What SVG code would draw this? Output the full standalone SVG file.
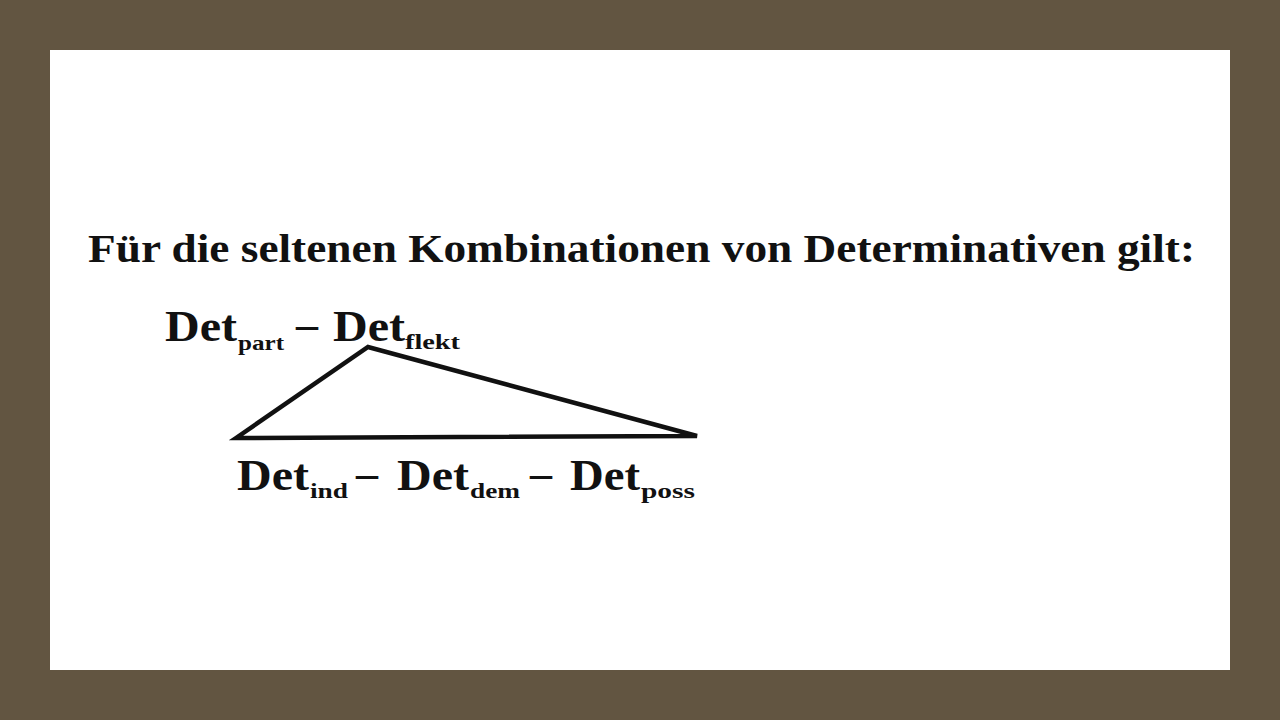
<svg xmlns="http://www.w3.org/2000/svg" width="1280" height="720" viewBox="0 0 1280 720">
<style>
.t{font-family:"Liberation Serif","Times New Roman",serif;font-weight:bold;fill:#111;}
.m{font-size:44px;}
.s{font-size:22px;}
.h{font-size:40px;}
</style>
<rect x="0" y="0" width="1280" height="720" fill="#625541"/>
<rect x="50" y="50" width="1180" height="620" fill="#ffffff"/>
<g id="title">
<text class="t h" x="88" y="262" textLength="1107" lengthAdjust="spacingAndGlyphs">Für die seltenen Kombinationen von Determinativen gilt:</text>
</g>
<g id="connectors">
<polygon points="236,438 368,347 697,436" fill="none" stroke="#111" stroke-width="4.5" stroke-linejoin="miter"/>
</g>
<g id="top">
<text class="t m" x="165" y="341" textLength="72" lengthAdjust="spacingAndGlyphs">Det</text>
<text class="t s" x="238" y="350" textLength="46" lengthAdjust="spacingAndGlyphs">part</text>
<text class="t m" x="296" y="339" textLength="22" lengthAdjust="spacingAndGlyphs">–</text>
<text class="t m" x="333" y="341" textLength="72" lengthAdjust="spacingAndGlyphs">Det</text>
<text class="t s" x="405" y="349" textLength="55" lengthAdjust="spacingAndGlyphs">flekt</text>
</g>
<g id="bottom">
<text class="t m" x="237" y="490" textLength="72" lengthAdjust="spacingAndGlyphs">Det</text>
<text class="t s" x="310" y="498" textLength="38" lengthAdjust="spacingAndGlyphs">ind</text>
<text class="t m" x="356" y="488" textLength="22" lengthAdjust="spacingAndGlyphs">–</text>
<text class="t m" x="397" y="490" textLength="72" lengthAdjust="spacingAndGlyphs">Det</text>
<text class="t s" x="470" y="498" textLength="50" lengthAdjust="spacingAndGlyphs">dem</text>
<text class="t m" x="530" y="488" textLength="22" lengthAdjust="spacingAndGlyphs">–</text>
<text class="t m" x="570" y="490" textLength="70" lengthAdjust="spacingAndGlyphs">Det</text>
<text class="t s" x="641" y="498" textLength="54" lengthAdjust="spacingAndGlyphs">poss</text>
</g>
</svg>
